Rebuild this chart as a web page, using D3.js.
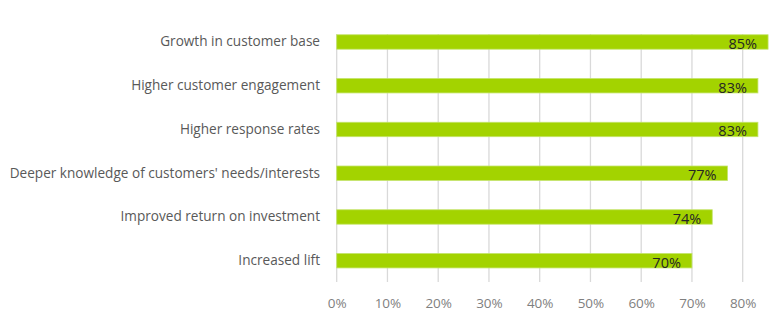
<!DOCTYPE html>
<html>
<head>
<meta charset="utf-8">
<script src="https://cdn.jsdelivr.net/npm/d3@7"></script>
<style>
  html, body { margin: 0; padding: 0; background: #fff; }
  svg { display: block; }
  text { font-family: "Open Sans", "Noto Sans", sans-serif; }
</style>
</head>
<body>
<svg id="chart" width="784" height="325"></svg>
<script>
const categories = [
  "Growth in customer base",
  "Higher customer engagement",
  "Higher response rates",
  "Deeper knowledge of customers' needs/interests",
  "Improved return on investment",
  "Increased lift"
];
const values = [0.85, 0.83, 0.83, 0.77, 0.74, 0.70];
const tickValues = [0, 0.1, 0.2, 0.3, 0.4, 0.5, 0.6, 0.7, 0.8];

const svg = d3.select("#chart");

const x = d3.scaleLinear().domain([0, 0.8]).range([336.7, 742.7]);
const y = d3.scaleBand().domain(categories).range([20.1, 282.6])
  .paddingInner(0.67).paddingOuter(0.335);

const gridTop = 34, gridBottom = 282;

// vertical gridlines
svg.append("g")
  .selectAll("line")
  .data(tickValues)
  .join("line")
  .attr("x1", d => x(d)).attr("x2", d => x(d))
  .attr("y1", gridTop).attr("y2", gridBottom)
  .attr("stroke", "#d9d9d9")
  .attr("stroke-width", 1.3);

// x axis tick labels
const xAxis = d3.axisBottom(x)
  .tickValues(tickValues)
  .tickFormat(d3.format(".0%"))
  .tickSize(0)
  .tickPadding(0);
const gx = svg.append("g").attr("transform", `translate(0,${gridBottom})`).call(xAxis);
gx.select(".domain").remove();
gx.selectAll("text")
  .attr("y", 22)
  .attr("dy", "0.32em")
  .attr("fill", "#7f7f7f")
  .style("font-size", "13.5px")
  .style("font-family", "'Open Sans', sans-serif");

// category labels
const yAxis = d3.axisLeft(y).tickSize(0).tickPadding(0);
const gy = svg.append("g").attr("transform", "translate(320,0)").call(yAxis);
gy.select(".domain").remove();
gy.selectAll("text")
  .attr("fill", "#595959")
  .style("font-size", "13.6px")
  .style("font-family", "'Open Sans', sans-serif");

// bars
svg.append("g")
  .selectAll("rect")
  .data(values)
  .join("rect")
  .attr("x", x(0))
  .attr("y", (d, i) => y(categories[i]))
  .attr("width", d => x(d) - x(0))
  .attr("height", y.bandwidth())
  .attr("fill", "#a3d300")
  .attr("stroke", "#c4e46a")
  .attr("stroke-width", 0.8);

// value labels
svg.append("g")
  .selectAll("text")
  .data(values)
  .join("text")
  .attr("x", d => x(d) - 11)
  .attr("y", (d, i) => y(categories[i]) + y.bandwidth() - 0.3)
  .attr("text-anchor", "end")
  .attr("fill", "#262626")
  .style("font-size", "14.5px")
  .text(d => d3.format(".0%")(d));
</script>
</body>
</html>
